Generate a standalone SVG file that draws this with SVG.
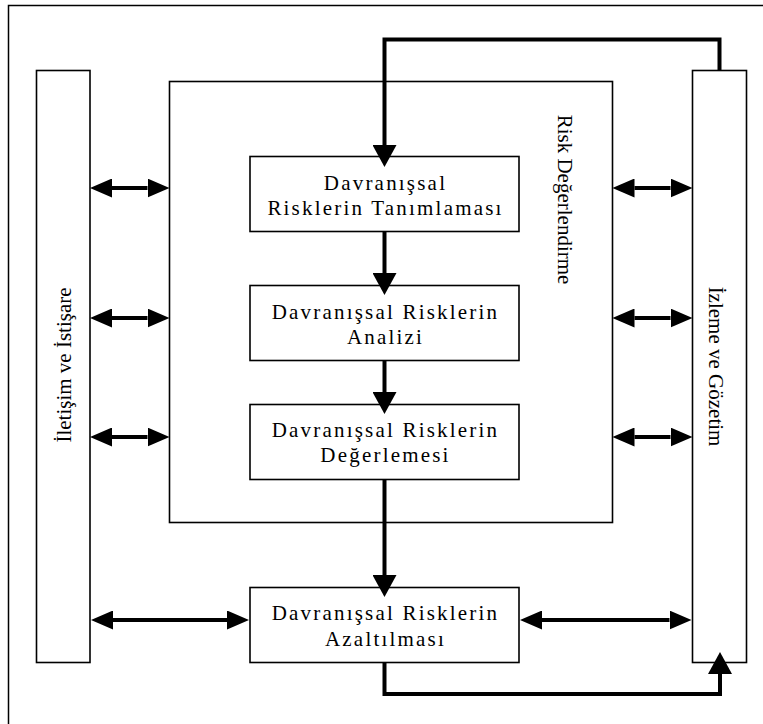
<svg xmlns="http://www.w3.org/2000/svg" width="763" height="724" viewBox="0 0 763 724">
<style>
.frame{fill:none;stroke:#000;stroke-width:1.5}
.box{fill:#fff;stroke:#000;stroke-width:1.6}
.con{fill:none;stroke:#000;stroke-width:4;stroke-linejoin:miter}
.t{font-family:"Liberation Serif","Times New Roman",serif;font-size:21px;fill:#000}
.bt{font-family:"Liberation Serif","Times New Roman",serif;font-size:21px;fill:#000;letter-spacing:2.2px;text-anchor:middle}
</style>
<defs>
<marker id="big" markerUnits="userSpaceOnUse" viewBox="0 0 22 24" markerWidth="22" markerHeight="24" refX="0" refY="12" orient="auto-start-reverse"><path d="M0,0 L22,12 L0,24 Z" fill="#000"/></marker>
<marker id="dbl" markerUnits="userSpaceOnUse" viewBox="0 0 22 19" markerWidth="22" markerHeight="19" refX="0" refY="9.5" orient="auto-start-reverse"><path d="M0,0 L22,9.5 L0,19 Z" fill="#000"/></marker>
</defs>
<rect x="8.5" y="5.5" width="770" height="740" fill="#fff" class="frame"/>
<g id="risk-degerlendirme">
<rect x="169.5" y="81.5" width="443" height="441" class="box"/>
<text class="t" text-anchor="middle" transform="translate(558,199.5) rotate(90)">Risk Değerlendirme</text>
</g>
<g id="iletisim">
<rect x="36.5" y="70.5" width="53.5" height="592" class="box"/>
<text class="t" text-anchor="middle" transform="translate(71,365) rotate(-90)">İletişim ve İstişare</text>
</g>
<g id="izleme">
<rect x="692.5" y="70.5" width="54" height="592" class="box"/>
<text class="t" text-anchor="middle" transform="translate(709,366.5) rotate(90)">İzleme ve Gözetim</text>
</g>
<g id="tanimlama">
<rect x="250" y="156.5" width="269" height="75" class="box"/>
<text class="bt" x="385.5" y="190">Davranışsal</text>
<text class="bt" x="385.5" y="215">Risklerin Tanımlaması</text>
</g>
<g id="analiz">
<rect x="250" y="285.5" width="269" height="75" class="box"/>
<text class="bt" x="385.5" y="319">Davranışsal Risklerin</text>
<text class="bt" x="385.5" y="344">Analizi</text>
</g>
<g id="degerleme">
<rect x="250" y="404.5" width="269" height="75" class="box"/>
<text class="bt" x="385.5" y="437">Davranışsal Risklerin</text>
<text class="bt" x="385.5" y="462">Değerlemesi</text>
</g>
<g id="azaltma">
<rect x="250" y="587.5" width="269" height="75" class="box"/>
<text class="bt" x="385.5" y="620">Davranışsal Risklerin</text>
<text class="bt" x="385.5" y="646">Azaltılması</text>
</g>
<g id="connectors">
<path class="con" d="M719.5,70.5 V39.5 H384.5 V145" marker-end="url(#big)"/>
<path class="con" d="M384.5,231.5 V273" marker-end="url(#big)"/>
<path class="con" d="M384.5,360.5 V392" marker-end="url(#big)"/>
<path class="con" d="M384.5,479.5 V575" marker-end="url(#big)"/>
<path class="con" d="M384.5,662.5 V694 H720 V674" marker-end="url(#big)"/>
<path class="con" d="M112,188 H147.5" marker-start="url(#dbl)" marker-end="url(#dbl)"/>
<path class="con" d="M112,318 H147.5" marker-start="url(#dbl)" marker-end="url(#dbl)"/>
<path class="con" d="M112,437 H147.5" marker-start="url(#dbl)" marker-end="url(#dbl)"/>
<path class="con" d="M634.5,188 H670.5" marker-start="url(#dbl)" marker-end="url(#dbl)"/>
<path class="con" d="M634.5,318 H670.5" marker-start="url(#dbl)" marker-end="url(#dbl)"/>
<path class="con" d="M634.5,437 H670.5" marker-start="url(#dbl)" marker-end="url(#dbl)"/>
<path class="con" d="M113,620 H227" marker-start="url(#dbl)" marker-end="url(#dbl)"/>
<path class="con" d="M542,620 H669.5" marker-start="url(#dbl)" marker-end="url(#dbl)"/>
</g>
</svg>
